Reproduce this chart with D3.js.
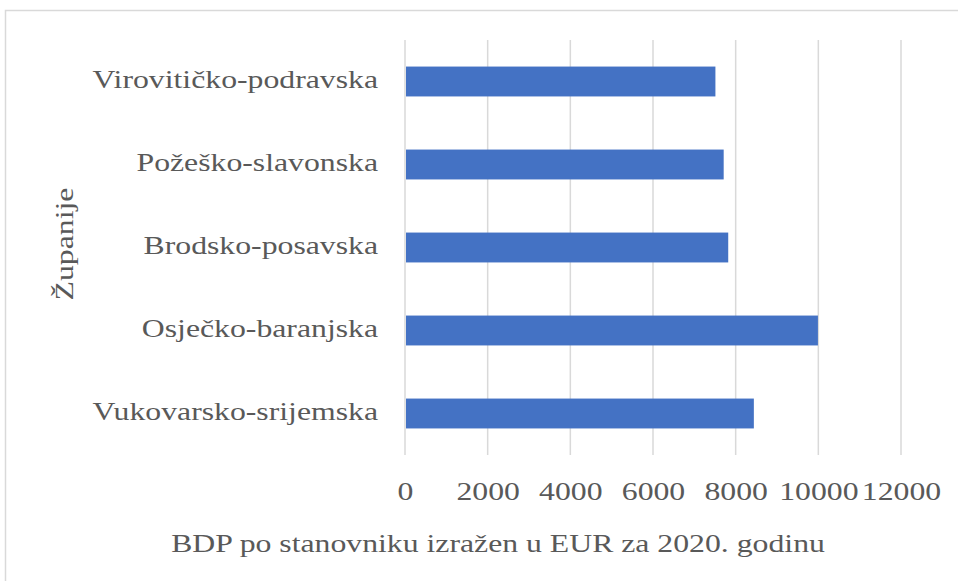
<!DOCTYPE html>
<html>
<head>
<meta charset="utf-8">
<script src="https://cdn.jsdelivr.net/npm/d3@7"></script>
<style>
  body { margin: 0; background: #fff; }
</style>
</head>
<body>
<div id="chart"></div>
<script>
// Data
const counties = ["Virovitičko-podravska", "Požeško-slavonska", "Brodsko-posavska", "Osječko-baranjska", "Vukovarsko-srijemska"];
const gdpPerCapita = [7510, 7710, 7820, 9990, 8440];
const xTicks = [0, 2000, 4000, 6000, 8000, 10000, 12000];
const xTitle = "BDP po stanovniku izražen u EUR za 2020. godinu";
const yTitle = "Županije";

const FONT = "'Times New Roman', 'Liberation Serif', Tinos, 'DejaVu Serif', serif";
const FONT_SIZE = 25;
const STRETCH = 1.27; // reference text is wide for its height
const W = 958, H = 581;
const margin = { top: 40, left: 405 }; // plot area origin
const plotW = 496, plotH = 415;

const svg = d3.select("#chart").append("svg")
    .attr("width", W)
    .attr("height", H)
    .style("font-family", FONT);

// outer chart frame (only top/left visible in the crop)
svg.append("rect")
    .attr("x", 5.5).attr("y", 10.5)
    .attr("width", W + 10).attr("height", H + 10)
    .attr("fill", "none")
    .attr("stroke", "#d9d9d9")
    .attr("stroke-width", 1.5);

const g = svg.append("g")
    .attr("transform", `translate(${margin.left},${margin.top})`);

const x = d3.scaleLinear().domain([0, 12000]).range([0, plotW]);
const y = d3.scaleBand().domain(counties).range([0, plotH]).paddingInner(0.64).paddingOuter(0.32);

// vertical gridlines
g.selectAll(".grid")
    .data(xTicks)
    .enter().append("line")
    .attr("class", "grid")
    .attr("x1", d => x(d)).attr("x2", d => x(d))
    .attr("y1", 0).attr("y2", plotH)
    .attr("stroke", "#d9d9d9")
    .attr("stroke-width", 1.5);

// bars
g.selectAll(".bar")
    .data(counties)
    .enter().append("rect")
    .attr("class", "bar")
    .attr("x", x(0) + 1)
    .attr("y", d => y(d))
    .attr("width", (d, i) => x(gdpPerCapita[i]) - x(0) - 1)
    .attr("height", y.bandwidth())
    .attr("fill", "#4472c4");

// x axis tick labels
const gx = g.append("g")
    .attr("transform", `translate(0,${plotH})`)
    .call(d3.axisBottom(x).tickValues(xTicks).tickSize(0).tickPadding(27).tickFormat(d3.format("d")));
gx.select(".domain").remove();

// y axis category labels
const gy = g.append("g")
    .call(d3.axisLeft(y).tickSize(0).tickPadding(27));
gy.select(".domain").remove();
gy.selectAll("text").attr("dy", "0.27em");

[gx, gy].forEach(ax => {
    ax.attr("font-family", null).attr("font-size", null);
    ax.selectAll("text")
        .style("font-family", FONT)
        .style("font-size", FONT_SIZE + "px")
        .attr("fill", "#595959")
        .attr("x", function() { return (+d3.select(this).attr("x") || 0) / STRETCH; })
        .attr("transform", `scale(${STRETCH},1)`);
});

// axis titles
svg.append("text")
    .attr("transform", `translate(498,552) scale(${STRETCH},1)`)
    .attr("text-anchor", "middle")
    .style("font-family", FONT)
    .style("font-size", FONT_SIZE + "px")
    .attr("fill", "#595959")
    .text(xTitle);

svg.append("text")
    .attr("transform", `translate(73,244) rotate(-90) scale(${STRETCH},1)`)
    .attr("text-anchor", "middle")
    .style("font-family", FONT)
    .style("font-size", FONT_SIZE + "px")
    .attr("fill", "#595959")
    .text(yTitle);
</script>
</body>
</html>
